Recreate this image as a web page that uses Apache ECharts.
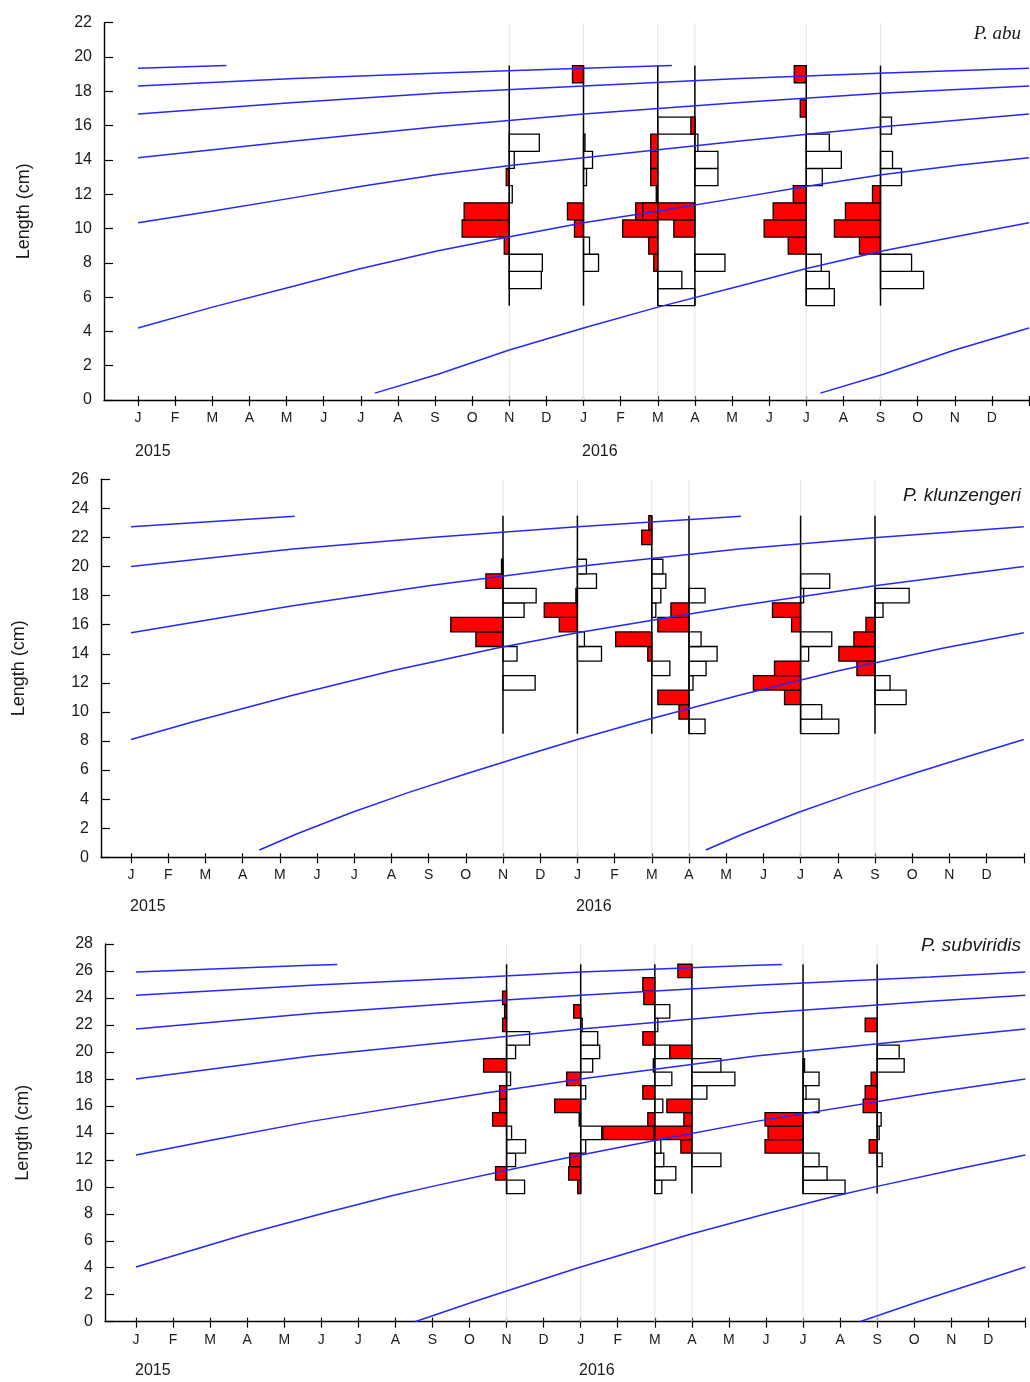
<!DOCTYPE html>
<html>
<head>
<meta charset="utf-8">
<script src="https://cdn.jsdelivr.net/npm/echarts@6/dist/echarts.min.js"></script>
<style>
  html, body { margin: 0; background: #fff; }
  #chart { width: 1030px; height: 1382px; }
</style>
</head>
<body>
<div id="chart"></div>
<script>
const monthLetters = ['J', 'F', 'M', 'A', 'M', 'J', 'J', 'A', 'S', 'O', 'N', 'D']
const yearLabels = ['2015', '2016']
const speciesNames = ['P. abu', 'P. klunzengeri', 'P. subviridis']

// sampling dates, months from Jan 2015 (Nov, Jan, Mar, Apr, Jul, Sep)
const sampleMonths = [10, 12, 14, 15, 18, 20]

// restructured frequencies: >0 red (left of the sample line), <0 white (right)
// P. abu, length classes 6..19 cm
const abuClasses = [6, 7, 8, 9, 10, 11, 12, 13, 14, 15, 16, 17, 18, 19]
const abuScores = [
  [0, -3.2, -3.3, 0.5, 4.7, 4.5, -0.3, 0.3, -0.5, -3.0, 0, 0, 0, 0],
  [0, 0, -1.5, -0.6, 0.9, 1.6, 0, -0.3, -0.9, -0.15, 0, 0, 0, 1.1],
  [-3.7, -2.4, 0.4, 0.9, 3.5, 2.2, 0.15, 0.7, 0.7, 0.7, -3.7, 0, 0, 0],
  [0, 0, -3.0, 0, 2.1, 5.2, 0, -2.3, -2.3, -0.3, 0.4, 0, 0, 0],
  [-2.8, -2.3, -1.5, 1.8, 4.2, 3.3, 1.3, -1.6, -3.5, -2.3, 0, 0.6, 0, 1.2],
  [0, -4.3, -3.1, 2.1, 4.6, 3.5, 0.8, -2.1, -1.2, 0, -1.1, 0, 0, 0]
]
// growth curve: age (months after recruitment) -> length (cm)
const abuGrowthAge = [0, 1.7, 3.6, 5.62, 7.6, 9.83, 11.6, 13.7, 15.7, 17.62, 19.6, 21.83, 23.6, 25.7, 27.76, 29.62, 33.83, 37.75, 41.62, 45.83, 49.75, 53.62, 57.83, 61.75, 65.62, 68]
const abuGrowthLen = [0.4, 1.5, 2.9, 4.2, 5.4, 6.65, 7.65, 8.7, 9.55, 10.33, 11.0, 11.8, 12.45, 13.15, 13.7, 14.13, 15.1, 15.95, 16.68, 17.35, 17.9, 18.31, 18.75, 19.07, 19.34, 19.5]
const abuRecruit = 6.38 // 2015 cohort starts here

// P. klunzengeri, classes 9..23 cm
const klunClasses = [9, 10, 11, 12, 13, 14, 15, 16, 17, 18, 19, 20, 21, 22, 23]
const klunScores = [
  [0, 0, 0, -3.2, 0, -1.4, 2.7, 5.2, -2.1, -3.3, 1.7, 0.15, 0, 0, 0],
  [0, 0, 0, 0, 0, -2.4, -0.7, 1.8, 3.3, 0.15, -1.9, -0.9, 0, 0, 0],
  [0, 0, 0, 0, -1.8, 0.4, 3.6, 0, -0.4, -0.9, -1.4, -1.1, 0, 1.0, 0.3],
  [-1.6, 1.0, 3.1, -0.4, -1.7, -2.8, -1.2, 3.1, 1.8, -1.6, 0, 0, 0, 0, 0],
  [-3.8, -2.1, 1.6, 4.7, 2.6, -0.8, -3.1, 0.9, 2.8, -0.3, -2.9, 0, 0, 0, 0],
  [0, 0, -3.1, -1.5, 1.8, 3.6, 2.1, 0.9, -0.8, -3.4, 0, 0, 0, 0, 0]
]
const klunGrowthAge = [0, 1, 2.5, 4, 5.5, 7.2, 8.55, 10.2, 12.9, 15.6, 18.4, 20.55, 24.9, 28.6, 32.55, 36.9, 40.6, 44.55, 48.95]
const klunGrowthLen = [0.5, 1.6, 3.1, 4.45, 5.7, 7.05, 8.1, 9.3, 11.15, 12.85, 14.4, 15.45, 17.3, 18.7, 20.0, 21.2, 22.0, 22.74, 23.45]
const klunRecruit = 3.45

// P. subviridis, classes 10..26 cm
const subClasses = [10, 11, 12, 13, 14, 15, 16, 17, 18, 19, 20, 21, 22, 23, 24, 25, 26]
const subScores = [
  [-1.8, 1.1, -0.9, -1.9, -0.5, 1.4, 0.7, 0.7, -0.4, 2.3, -0.9, -2.3, 0.4, 0.2, 0.4, 0, 0],
  [0.3, 1.2, 1.1, -0.5, -2.1, 0.15, 2.6, -0.5, 1.4, -1.2, -1.9, -1.7, -0.15, 0.7, 0, 0, 0],
  [-0.7, -2.1, -0.9, -0.6, 5.2, 0.7, -0.8, 1.2, -1.7, 0.15, -1.5, 1.2, -0.3, -1.5, 1.1, 1.2, 0],
  [0, 0, -2.9, 1.1, 3.8, 0.8, 2.5, -1.5, -4.3, -2.9, 2.2, 0, 0, 0, 0, 0, 1.4],
  [-4.2, -2.4, -1.6, 3.8, 3.5, 3.8, -1.6, -0.3, -1.6, -0.15, 0, 0, 0, 0, 0, 0, 0],
  [0, 0, -0.5, 0.8, -0.2, -0.4, 1.4, 1.2, 0.6, -2.7, -2.2, 0, 1.2, 0, 0, 0, 0]
]
const subGrowthAge = [0, 1.6, 4.47, 7.45, 9.4, 11.4, 12.5, 14.7, 16.47, 18.6, 21.2, 25.9, 28.47, 33.2, 37.9, 40.47, 45.2, 49.9, 52.47, 57.2, 61.9, 64.47, 69.0, 69.9]
const subGrowthLen = [0, 1.5, 4.05, 6.5, 7.95, 9.35, 10.05, 11.35, 12.36, 13.5, 14.85, 16.95, 18.0, 19.7, 21.0, 21.7, 22.85, 23.75, 24.2, 24.95, 25.55, 25.92, 26.4, 26.48]
const subRecruit = 7.53

const BAR_UNIT = 0.27 // months of x-axis per unit of score
const FONT = '"Liberation Sans", Arial, sans-serif'

const panels = [
  { title: speciesNames[0], titleFont: 'italic 19px "Liberation Serif", serif', titleY: 34,
    classes: abuClasses, scores: abuScores, age: abuGrowthAge, len: abuGrowthLen, recruit: abuRecruit,
    yMax: 22, xMin: -0.916, grid: { left: 104, top: 22.7, width: 925, height: 377.3 },
    nameGap: 71, yearY: 452, yearX: [135, 582] },
  { title: speciesNames[1], titleFont: 'italic 19px ' + FONT, titleY: 496,
    classes: klunClasses, scores: klunScores, age: klunGrowthAge, len: klunGrowthLen, recruit: klunRecruit,
    yMax: 26, xMin: -0.806, grid: { left: 101, top: 479.3, width: 922.8, height: 378 },
    nameGap: 73, yearY: 907, yearX: [130, 576] },
  { title: speciesNames[2], titleFont: 'italic 19px ' + FONT, titleY: 946,
    classes: subClasses, scores: subScores, age: subGrowthAge, len: subGrowthLen, recruit: subRecruit,
    yMax: 28, xMin: -0.836, grid: { left: 105, top: 944, width: 920.4, height: 377.7 },
    nameGap: 73, yearY: 1371, yearX: [135, 579] }
]

const tickValues = []
for (let i = 0; i <= 24; i++) tickValues.push(i)
const labelValues = tickValues.slice(0, 24)

// one curve per yearly cohort, kept inside Jan 2015 .. Jan 2017
function cohortCurves(age, len, recruit) {
  const curves = []
  for (let k = -7; k <= 2; k++) {
    const pts = []
    for (let i = 0; i < age.length; i++) {
      const t = recruit + 12 * k + age[i]
      if (t >= -1e-6 && t <= 24 + 1e-6) pts.push([t, len[i]])
    }
    if (pts.length > 1) curves.push(pts)
  }
  return curves
}

const grid = [], xAxis = [], yAxis = [], series = [], graphic = []

panels.forEach((p, pi) => {
  grid.push(p.grid)
  xAxis.push({
    gridIndex: pi, type: 'value', min: p.xMin, max: 24, position: 'bottom',
    axisLine: { onZero: false, lineStyle: { color: '#000', width: 1.4 } },
    axisTick: { customValues: tickValues, length: 6, lineStyle: { color: '#000', width: 1.2 } },
    axisLabel: { customValues: labelValues, margin: 11, color: '#1a1a1a', fontSize: 14, fontFamily: FONT,
      formatter: v => monthLetters[Math.round(v) % 12] },
    splitLine: { show: false }
  })
  xAxis.push({
    gridIndex: pi, type: 'value', min: p.xMin, max: 24, position: 'bottom',
    axisLine: { show: false, onZero: false },
    axisTick: { customValues: tickValues, inside: true, length: 4, lineStyle: { color: '#000', width: 1.2 } },
    axisLabel: { show: false },
    splitLine: { show: false }
  })
  yAxis.push({
    gridIndex: pi, type: 'value', min: 0, max: p.yMax, interval: 2, position: 'left',
    name: 'Length (cm)', nameLocation: 'middle', nameGap: p.nameGap,
    nameTextStyle: { fontSize: 18, color: '#1a1a1a', fontFamily: FONT },
    axisLine: { show: true, onZero: false, lineStyle: { color: '#000', width: 1.4 } },
    axisTick: { inside: true, length: 9, lineStyle: { color: '#000', width: 1.2 } },
    axisLabel: { margin: 12, color: '#1a1a1a', fontSize: 16, fontFamily: FONT },
    splitLine: { show: false }
  })

  const xi = pi * 2
  // faint full-height lines at the sampling dates
  series.push({
    type: 'custom', xAxisIndex: xi, yAxisIndex: pi, silent: true, z: 1,
    data: sampleMonths.map(m => [m, 0]),
    renderItem: (params, api) => {
      const cs = params.coordSys
      const x = api.coord([api.value(0), 0])[0]
      return { type: 'line', shape: { x1: x, y1: cs.y, x2: x, y2: cs.y + cs.height },
        style: { stroke: '#e6e6e6', lineWidth: 1 } }
    }
  })

  const bars = []
  sampleMonths.forEach((m, si) => {
    p.classes.forEach((c, ci) => {
      const v = p.scores[si][ci]
      if (v !== 0) bars.push([m, c - 0.5, c + 0.5, v])
    })
  })
  series.push({
    type: 'custom', xAxisIndex: xi, yAxisIndex: pi, silent: true, z: 3,
    data: bars,
    renderItem: (params, api) => {
      const t = api.value(0), lo = api.value(1), hi = api.value(2), v = api.value(3)
      const x0 = v > 0 ? t - v * BAR_UNIT : t
      const x1 = v > 0 ? t : t - v * BAR_UNIT
      const a = api.coord([x0, hi]), b = api.coord([x1, lo])
      return { type: 'rect', shape: { x: a[0], y: a[1], width: b[0] - a[0], height: b[1] - a[1] },
        style: { fill: v > 0 ? '#ff0000' : '#ffffff', stroke: '#000', lineWidth: 1.3 } }
    }
  })

  const lo = p.classes[0] - 0.5, hi = p.classes[p.classes.length - 1] + 0.5
  series.push({
    type: 'custom', xAxisIndex: xi, yAxisIndex: pi, silent: true, z: 4,
    data: sampleMonths.map(m => [m, lo, hi]),
    renderItem: (params, api) => {
      const a = api.coord([api.value(0), api.value(1)]), b = api.coord([api.value(0), api.value(2)])
      return { type: 'line', shape: { x1: a[0], y1: a[1], x2: b[0], y2: b[1] },
        style: { stroke: '#000', lineWidth: 1.5 } }
    }
  })

  cohortCurves(p.age, p.len, p.recruit).forEach(pts => {
    series.push({
      type: 'line', xAxisIndex: xi, yAxisIndex: pi, data: pts, z: 5, silent: true,
      symbol: 'none', smooth: false,
      lineStyle: { color: '#2626ff', width: 1.5 }
    })
  })

  graphic.push({ type: 'text', x: 1021, y: p.titleY,
    style: { text: p.title, font: p.titleFont, fill: '#1a1a1a', align: 'right', verticalAlign: 'middle' } })
  yearLabels.forEach((yl, yi) => {
    graphic.push({ type: 'text', x: p.yearX[yi], y: p.yearY,
      style: { text: yl, font: '16px ' + FONT, fill: '#1a1a1a', align: 'left', verticalAlign: 'middle' } })
  })
})

const chart = echarts.init(document.getElementById('chart'))
chart.setOption({
  animation: false,
  backgroundColor: '#fff',
  grid, xAxis, yAxis, series, graphic
})
</script>
</body>
</html>
